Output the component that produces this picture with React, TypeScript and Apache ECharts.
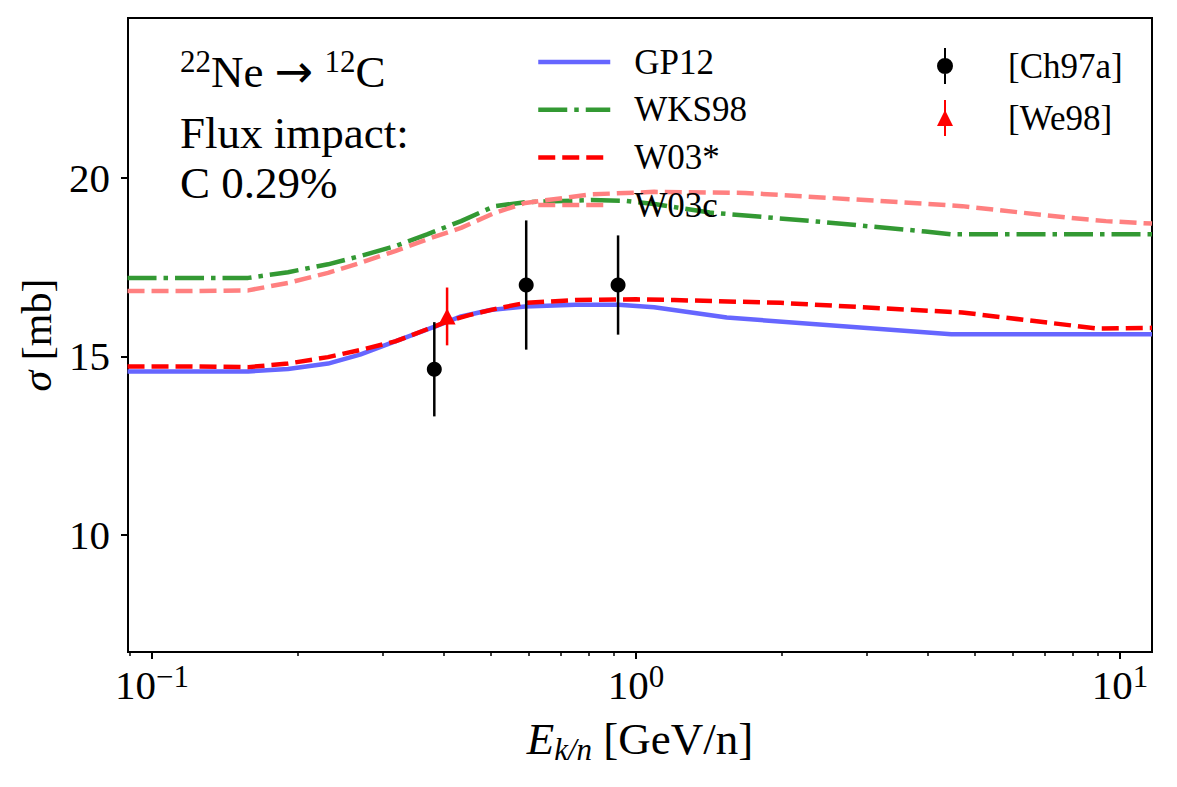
import React, { useEffect, useRef } from 'react';
import * as echarts from 'echarts';

const FONT = "'Liberation Serif', 'Times New Roman', serif";

// ---- data ----
const gp12X = [0.089, 0.12, 0.158, 0.191, 0.231, 0.269, 0.318, 0.385, 0.435, 0.5, 0.59, 0.75, 0.92, 1.09, 1.54, 4.48, 11.64];
const gp12Y = [14.58, 14.58, 14.58, 14.65, 14.8, 15.05, 15.42, 15.84, 16.12, 16.3, 16.4, 16.45, 16.45, 16.38, 16.09, 15.62, 15.62];

const wks98X = [0.089, 0.12, 0.158, 0.191, 0.231, 0.269, 0.318, 0.37, 0.435, 0.51, 0.59, 0.81, 0.95, 1.1, 1.42, 2.36, 3.96, 4.48, 11.64];
const wks98Y = [17.2, 17.2, 17.2, 17.36, 17.58, 17.81, 18.09, 18.42, 18.79, 19.21, 19.32, 19.38, 19.36, 19.26, 19.03, 18.78, 18.5, 18.42, 18.42];

const w03sX = [0.089, 0.12, 0.158, 0.191, 0.231, 0.269, 0.318, 0.385, 0.407, 0.45, 0.52, 0.59, 0.75, 1.0, 1.2, 1.99, 4.72, 9.0, 11.64];
const w03sY = [14.72, 14.72, 14.7, 14.8, 14.98, 15.18, 15.42, 15.85, 15.98, 16.15, 16.35, 16.5, 16.58, 16.6, 16.58, 16.5, 16.23, 15.78, 15.8];

const w03cX = [0.089, 0.12, 0.158, 0.191, 0.231, 0.269, 0.318, 0.37, 0.435, 0.51, 0.59, 0.81, 1.09, 1.68, 2.81, 4.72, 7.88, 9.35, 11.64];
const w03cY = [16.83, 16.83, 16.85, 17.06, 17.34, 17.62, 17.95, 18.28, 18.6, 19.02, 19.3, 19.54, 19.61, 19.58, 19.4, 19.21, 18.88, 18.79, 18.72];

const ch97aX = [0.383, 0.593, 0.918];
const ch97aY = [14.64, 17.0, 17.0];
const ch97aErr = [1.32, 1.81, 1.39];

const we98X = [0.407];
const we98Y = [16.12];
const we98Err = [0.81];

const xMajorTicks = [0.1, 1, 10];
const xMinorTicks = [0.09, 0.2, 0.3, 0.4, 0.5, 0.6, 0.7, 0.8, 0.9, 2, 3, 4, 5, 6, 7, 8, 9];
const yTicks = [10, 15, 20];

const X_MIN = 0.0892;
const X_MAX = 11.64;
const Y_MIN = 6.72;
const Y_MAX = 24.48;

const pairs = (xs: number[], ys: number[]) => xs.map((x, i) => [x, ys[i]]);
const errRows = (xs: number[], ys: number[], es: number[]) => xs.map((x, i) => [x, ys[i] - es[i], ys[i] + es[i]]);

const chIcon = 'path://M7,0 L9,0 L9,36 L7,36 Z M0,18 A8,8 0 1,1 16,18 A8,8 0 1,1 0,18 Z';
const weIcon = 'path://M7,0 L9,0 L9,36 L7,36 Z M8,10 L16,26 L0,26 Z';

function errorBarSeries(name: string, rows: number[][], color: string) {
  return {
    type: 'custom',
    name,
    coordinateSystem: 'cartesian2d',
    data: rows,
    encode: { x: 0, y: [1, 2] },
    z: 5,
    renderItem: (params: any, api: any) => {
      const p1 = api.coord([api.value(0), api.value(1)]);
      const p2 = api.coord([api.value(0), api.value(2)]);
      return {
        type: 'line',
        shape: { x1: p1[0], y1: p1[1], x2: p2[0], y2: p2[1] },
        style: { stroke: color, lineWidth: 2.5 },
      };
    },
  };
}

const supRich = {
  b: { fontFamily: FONT, fontSize: 41, lineHeight: 44, verticalAlign: 'bottom', color: '#000' },
  s: { fontFamily: FONT, fontSize: 31, lineHeight: 28, verticalAlign: 'top', color: '#000' },
};

const legendText = {
  fontFamily: FONT,
  fontSize: 35,
  lineHeight: 36,
  color: '#000',
};

export default function App() {
  const ref = useRef<HTMLDivElement>(null);
  useEffect(() => {
    const chart = echarts.init(ref.current!, null, { renderer: 'svg' });
    const option: any = {
      animation: false,
      backgroundColor: '#fff',
      textStyle: { fontFamily: FONT, color: '#000' },
      grid: {
        left: 128, right: 25, top: 18, bottom: 135,
        show: true, borderColor: '#000', borderWidth: 2, backgroundColor: 'transparent',
        containLabel: false, outerBoundsMode: 'none',
      },
      xAxis: [
        {
          type: 'log', min: X_MIN, max: X_MAX, logBase: 10,
          name: '{i|E}{sub|k/n}{n| [GeV/n]}',
          nameLocation: 'middle', nameGap: 60,
          nameTextStyle: {
            rich: {
              i: { fontFamily: FONT, fontStyle: 'italic', fontSize: 45, lineHeight: 48, verticalAlign: 'top', color: '#000' },
              sub: { fontFamily: FONT, fontStyle: 'italic', fontSize: 31, lineHeight: 30, verticalAlign: 'bottom', padding: [24, 0, 0, 0], color: '#000' },
              n: { fontFamily: FONT, fontSize: 45, lineHeight: 48, verticalAlign: 'top', color: '#000' },
            },
          },
          axisLine: { show: false },
          splitLine: { show: false },
          minorTick: { show: false },
          axisTick: { show: true, customValues: xMajorTicks, length: 7, lineStyle: { color: '#000', width: 2 } },
          axisLabel: {
            customValues: xMajorTicks,
            margin: 9,
            formatter: (v: number) => {
              const e = Math.round(Math.log10(v));
              return `{b|10}{s|${e < 0 ? '\u2212' : ''}${Math.abs(e)}}`;
            },
            rich: supRich,
          },
        },
        {
          type: 'log', min: X_MIN, max: X_MAX, logBase: 10, position: 'bottom', gridIndex: 0,
          axisLine: { show: false },
          splitLine: { show: false },
          axisLabel: { show: false },
          axisTick: { show: true, customValues: xMinorTicks, length: 4, lineStyle: { color: '#000', width: 1.5 } },
        },
      ],
      yAxis: {
        type: 'value', min: Y_MIN, max: Y_MAX,
        name: '{i|σ}{n| [mb]}',
        nameLocation: 'middle', nameGap: 62,
        nameTextStyle: {
          rich: {
            i: { fontFamily: FONT, fontStyle: 'italic', fontSize: 42, color: '#000' },
            n: { fontFamily: FONT, fontSize: 42, color: '#000' },
          },
        },
        axisLine: { show: false },
        splitLine: { show: false },
        axisTick: { show: true, customValues: yTicks, length: 7, lineStyle: { color: '#000', width: 2 } },
        axisLabel: { customValues: yTicks, margin: 18, fontFamily: FONT, fontSize: 41, color: '#000' },
      },
      legend: [
        {
          data: ['GP12', 'WKS98', 'W03*', 'W03c'],
          orient: 'vertical', left: 536, top: 44, padding: 0,
          itemWidth: 72, itemHeight: 14, itemGap: 11.7,
          selectedMode: false,
          itemStyle: { opacity: 0 },
          lineStyle: { width: 4.5 },
          formatter: '{t|{name}}',
          textStyle: { ...legendText, padding: [0, 0, 0, 19], rich: { t: legendText } },
        },
        {
          data: [{ name: '[Ch97a]', icon: chIcon }, { name: '[We98]', icon: weIcon }],
          orient: 'vertical', left: 937, top: 48, padding: 0,
          itemWidth: 16, itemHeight: 36, itemGap: 16,
          selectedMode: false,
          itemStyle: { opacity: 1 },
          formatter: '{t|{name}}',
          textStyle: { ...legendText, padding: [0, 0, 0, 50], rich: { t: legendText } },
        },
      ],
      graphic: [
        {
          type: 'text', x: 180, y: 70,
          style: {
            text: '{s|22}{b|Ne }{a|\u2192}{b| }{s|12}{b|C}',
            verticalAlign: 'middle',
            rich: {
              b: { fontFamily: FONT, fontSize: 45, lineHeight: 48, verticalAlign: 'bottom', fill: '#000' },
              a: { fontFamily: "'DejaVu Sans', sans-serif", fontSize: 46, lineHeight: 48, verticalAlign: 'bottom', fill: '#000' },
              s: { fontFamily: FONT, fontSize: 31, lineHeight: 30, verticalAlign: 'top', fill: '#000' },
            },
          },
        },
        {
          type: 'text', x: 180, y: 133,
          style: { text: 'Flux impact:', verticalAlign: 'middle', fontFamily: FONT, fontSize: 45, fill: '#000' },
        },
        {
          type: 'text', x: 180, y: 183,
          style: { text: 'C 0.29%', verticalAlign: 'middle', fontFamily: FONT, fontSize: 45, fill: '#000' },
        },
      ],
      series: [
        {
          type: 'line', name: 'GP12', data: pairs(gp12X, gp12Y), showSymbol: false, symbol: 'none',
          lineStyle: { color: '#6666ff', width: 4.5 }, itemStyle: { color: '#6666ff' }, z: 2,
        },
        {
          type: 'line', name: 'WKS98', data: pairs(wks98X, wks98Y), showSymbol: false, symbol: 'none',
          lineStyle: { color: '#339933', width: 4.5, type: [29, 7, 4.5, 7] }, itemStyle: { color: '#339933' }, z: 2,
        },
        {
          type: 'line', name: 'W03*', data: pairs(w03sX, w03sY), showSymbol: false, symbol: 'none',
          lineStyle: { color: '#ff0000', width: 4.5, type: [17, 7] }, itemStyle: { color: '#ff0000' }, z: 2,
        },
        {
          type: 'line', name: 'W03c', data: pairs(w03cX, w03cY), showSymbol: false, symbol: 'none',
          lineStyle: { color: '#ff8080', width: 4.5, type: [17, 7] }, itemStyle: { color: '#ff8080' }, z: 2,
        },
        errorBarSeries('ch97a-err', errRows(ch97aX, ch97aY, ch97aErr), '#000'),
        errorBarSeries('we98-err', errRows(we98X, we98Y, we98Err), '#ff0000'),
        {
          type: 'scatter', name: '[Ch97a]', data: pairs(ch97aX, ch97aY), symbol: 'circle', symbolSize: 15,
          itemStyle: { color: '#000', opacity: 1 }, z: 6,
        },
        {
          type: 'scatter', name: '[We98]', data: pairs(we98X, we98Y), symbol: 'triangle', symbolSize: [17, 16],
          itemStyle: { color: '#ff0000', opacity: 1 }, z: 6,
        },
      ],
    };
    chart.setOption(option);
    return () => chart.dispose();
  }, []);
  return (
    <div
      ref={ref}
      style={{ position: 'absolute', left: 0, top: 0, width: 1177, height: 787, background: '#fff' }}
    />
  );
}
